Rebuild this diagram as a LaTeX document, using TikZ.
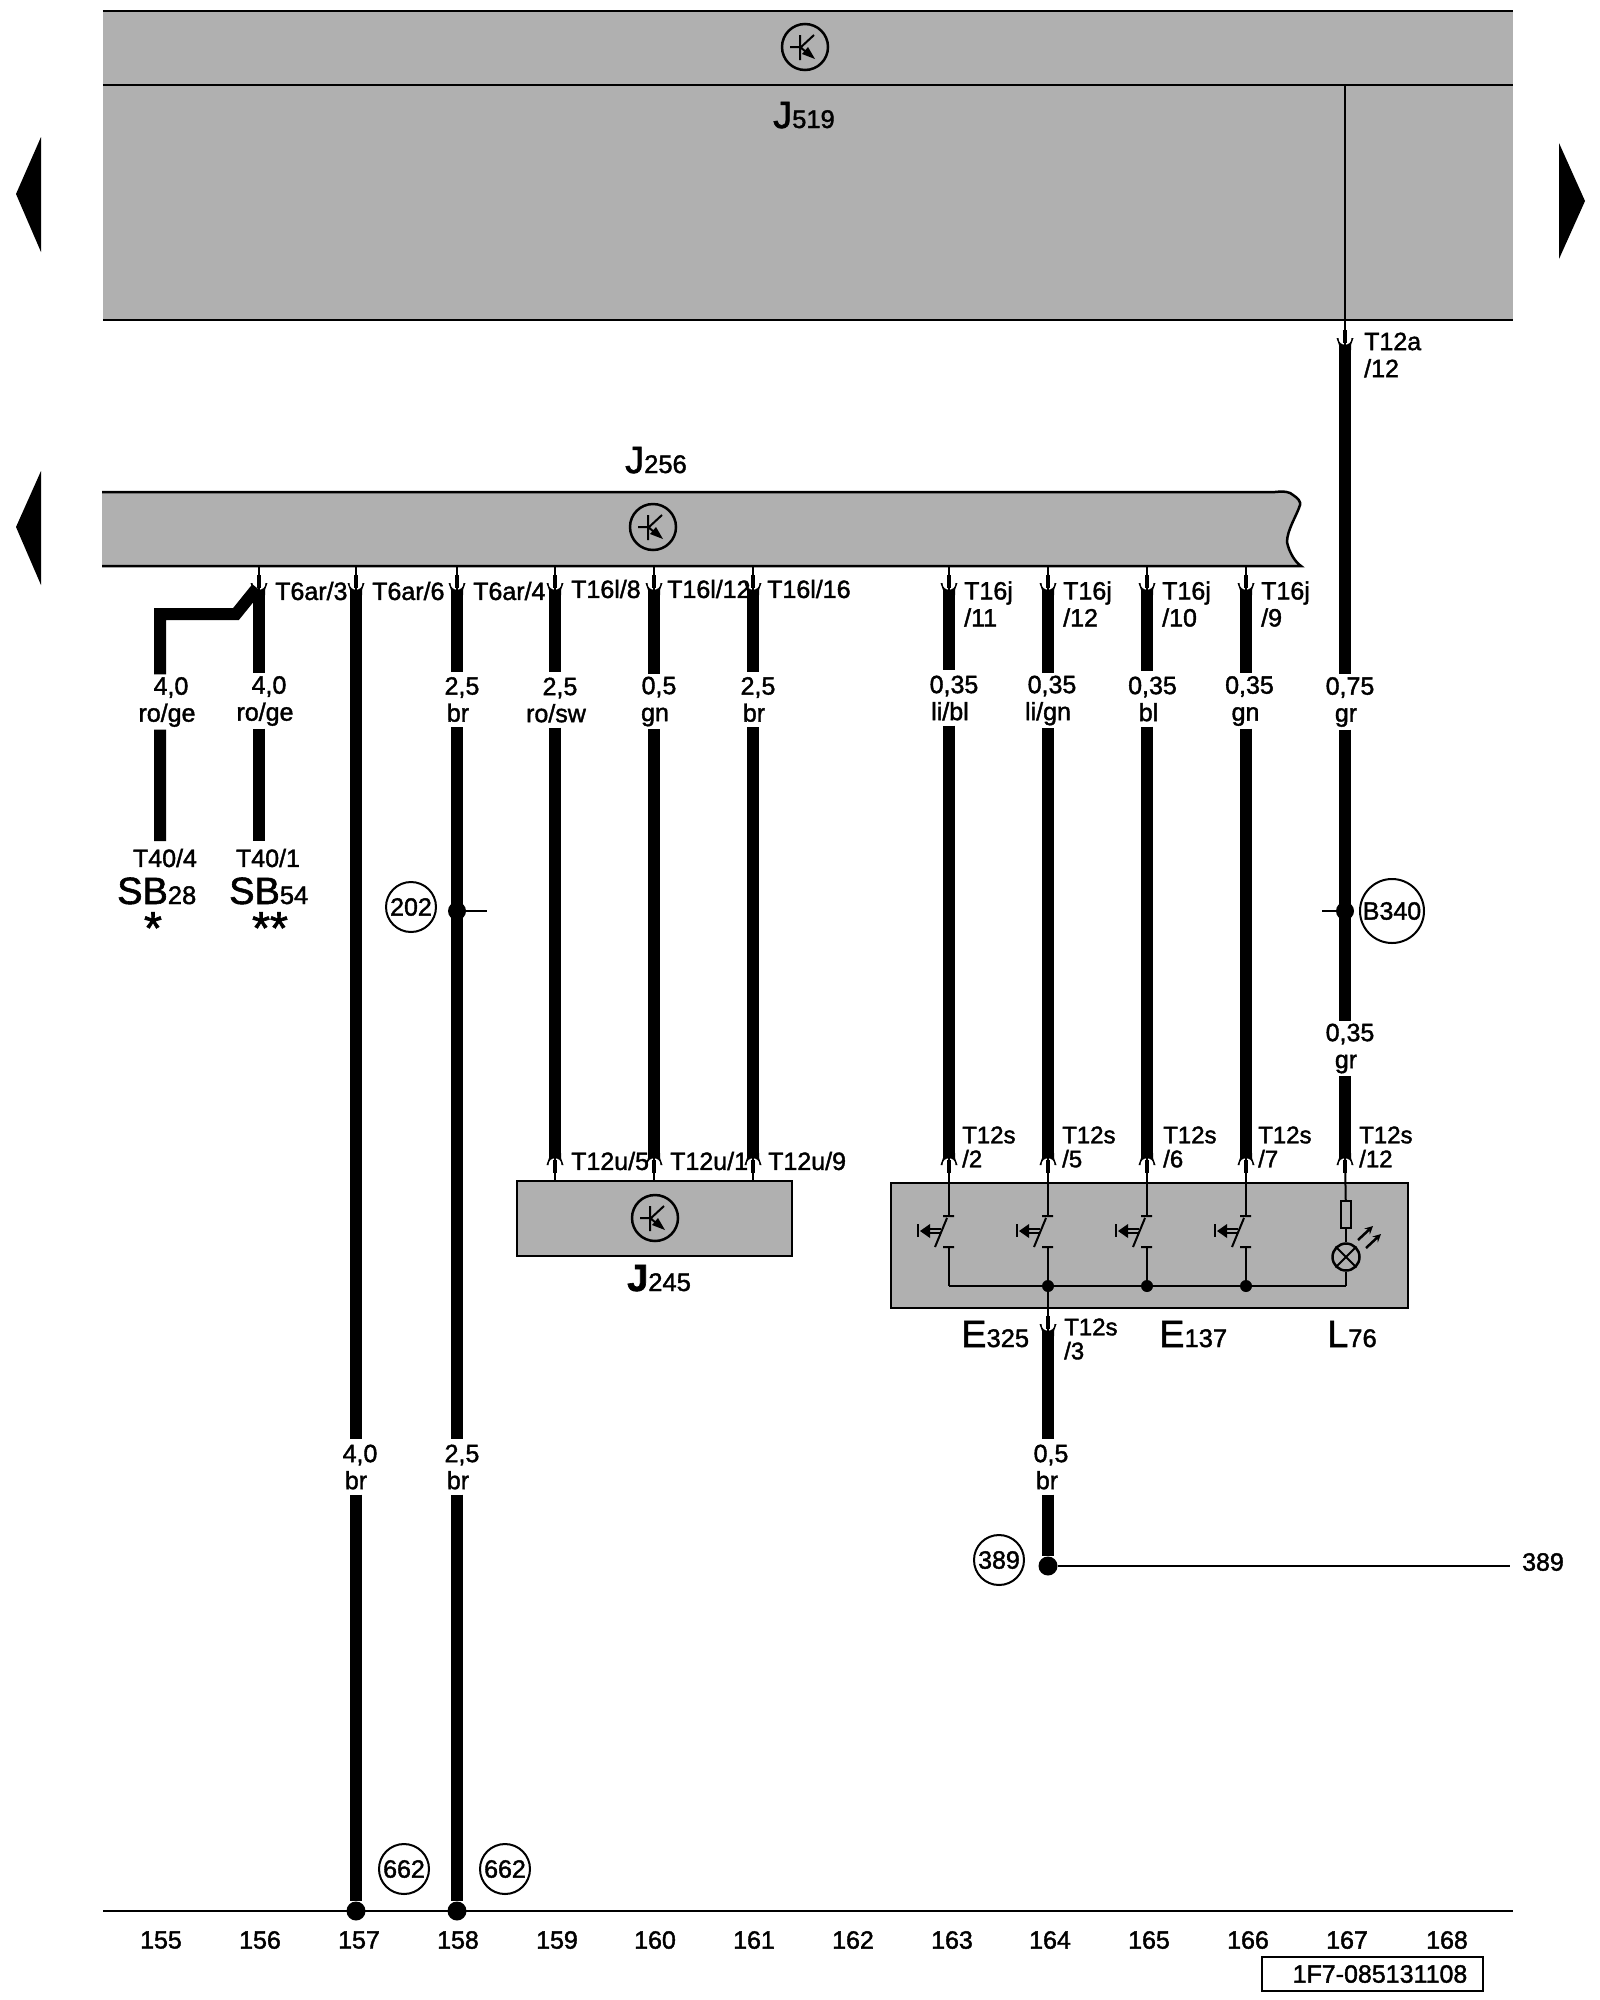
\documentclass[tikz,border=0pt]{standalone}
\usepackage{fontspec}
\usepackage{xcolor}
\usepackage{tikz}
\setmainfont[FakeBold=1.6]{Liberation Sans}
\definecolor{boxgray}{RGB}{176,176,176}
\newcommand{\unitname}[2]{{\fontsize{38}{38}\selectfont #1}{\fontsize{25.5}{26}\selectfont #2}}
\newcommand{\sizecolor}[2]{\hspace*{4pt}#1\\#2\hspace*{4pt}}
\tikzset{
    wire/.style={line width=12pt},
    trace/.style={line width=2pt},
    bar/.style={line width=2.5pt},
    unitbox/.style={fill=boxgray, inner sep=0pt, minimum width=1410pt},
    gauge/.style={align=center, inner sep=0pt, minimum height=55pt, font=\fontsize{25}{27}\selectfont},
    pinname/.style={anchor=west, align=left, inner sep=0pt, font=\fontsize{25}{27}\selectfont},
    lowname/.style={anchor=west, align=left, inner sep=0pt, font=\fontsize{24}{24}\selectfont},
    partlabel/.style={anchor=base west, inner sep=0pt},
    colnum/.style={inner sep=0pt, font=\fontsize{25}{27}\selectfont},
    callout/.style={draw, circle, line width=2pt, inner sep=0pt, minimum size=50pt, font=\fontsize{25}{27}\selectfont},
    bigdot/.style={fill, circle, inner sep=0pt, minimum size=19pt},
    smalldot/.style={fill, circle, inner sep=0pt, minimum size=12pt},
    plugpin/.pic={
        \fill (-8.5,-7) -- (-6,0) -- (-6,5) -- (6,5) -- (6,0) -- (8.5,-7) -- (6.5,-7) .. controls (7,2) and (-7,2) .. (-6.5,-7) -- cycle;
        \fill (-2,-15) rectangle (2,-2);
    },
    transistor/.pic={
        \draw[line width=2.5pt] (0,0) circle (23pt);
        \draw[trace] (-15,0) -- (-5,0) (-5,-12) -- (-5,13) (-5,1) -- (9,-12) (-5,0) -- (5,8);
        \fill (10,12) -- (-3,7) -- (3,0) -- cycle;
    },
    switchpic/.pic={
        \draw[trace] (-6,0) -- (5,0) (-6,31) -- (5,31) (-2,2) -- (-14,31);
        \draw[trace] (-20,13) -- (-8,13) (-20,17) -- (-8,17);
        \draw[trace] (-31,8) -- (-31,21);
        \fill (-29,15) -- (-19,8) -- (-19,22) -- cycle;
    }
}

\begin{document}
\begin{tikzpicture}[x=1pt, y=-1pt]
                        \useasboundingbox (0,0) rectangle (1600,2000);

                        \fill (41,137) -- (16,194) -- (41,252) -- cycle;
                        \fill (41,471) -- (16,527) -- (41,585) -- cycle;
                        \fill (1559,143) -- (1585,201) -- (1559,259) -- cycle;

                        \node[unitbox, minimum height=74pt] (j519top) at (808,48) {};
                        \node[unitbox, minimum height=235pt] (j519) at (808,202.5) {};
                        \draw[bar] (j519top.north west) -- (j519top.north east);
                        \draw[bar] (j519.north west) -- (j519.north east);
                        \draw[bar] (j519.south west) -- (j519.south east);
                        \pic at (805,47) {transistor};
                        \node[partlabel] (j519name) at (773,128) {\unitname{J}{519}};

                        \path[fill=boxgray, draw=black, line width=2.5pt] (102,492) -- (1275,492) .. controls (1285,491) and (1290,492) .. (1293,495)
                            .. controls (1298,498) and (1301,502) .. (1300,505) .. controls (1297,515) and (1287,530) .. (1287,542)
                            .. controls (1289,552) and (1295,562) .. (1301,566) -- (102,566);
                        \coordinate (j256s) at (102,566);
                        \pic at (653,527) {transistor};
                        \node[partlabel] (j256name) at (625,473) {\unitname{J}{256}};

                        \node[fill=boxgray, draw, line width=2.5pt, inner sep=0pt, minimum width=275pt, minimum height=75pt] (j245) at (654.5,1218.5) {};
                        \pic at (655,1218) {transistor};
                        \node[partlabel] (j245name) at (627,1291) {\unitname{\textbf{J}}{245}};

                        \node[fill=boxgray, draw, line width=2.5pt, inner sep=0pt, minimum width=517pt, minimum height=125pt] (switches) at (1149.5,1245.5) {};

                        \coordinate (p156) at (259,590);
                        \coordinate (p157) at (356,590);
                        \coordinate (p158) at (457,590);
                        \coordinate (p159) at (555,590);
                        \coordinate (p160) at (654,590);
                        \coordinate (p161) at (753,590);
                        \coordinate (p163) at (949,590);
                        \coordinate (p164) at (1048,590);
                        \coordinate (p165) at (1147,590);
                        \coordinate (p166) at (1246,590);
                        \coordinate (p167) at (1345,345);
                        \coordinate (u159) at (555,1158);
                        \coordinate (u160) at (654,1158);
                        \coordinate (u161) at (753,1158);
                        \coordinate (u163) at (949,1158);
                        \coordinate (u164) at (1048,1158);
                        \coordinate (u165) at (1147,1158);
                        \coordinate (u166) at (1246,1158);
                        \coordinate (u167) at (1345,1158);
                        \coordinate (d164) at (1048,1331);
                        \coordinate (end155) at (160,841);
                        \coordinate (end156) at (259,841);
                        \coordinate (bend1) at (257,588);
                        \coordinate (bend2) at (236,614);
                        \coordinate (bend3) at (160,614);

                        \node[gauge] (v155) at (169,702) {\sizecolor{4,0}{ro/ge}};
                        \node[gauge] (v156) at (267,701) {\sizecolor{4,0}{ro/ge}};
                        \node[gauge] (v158) at (460,699.5) {\sizecolor{2,5}{br}};
                        \node[gauge] (v159) at (558,700) {\sizecolor{2,5}{ro/sw}};
                        \node[gauge] (v160) at (657,701.5) {\sizecolor{0,5}{gn}};
                        \node[gauge] (v161) at (756,699.5) {\sizecolor{2,5}{br}};
                        \node[gauge] (v163) at (952,698) {\sizecolor{0,35}{li/bl}};
                        \node[gauge] (v164) at (1050,700.5) {\sizecolor{0,35}{li/gn}};
                        \node[gauge] (v165) at (1150.5,699) {\sizecolor{0,35}{bl}};
                        \node[gauge] (v166) at (1247.5,701) {\sizecolor{0,35}{gn}};
                        \node[gauge] (v167) at (1348,702) {\sizecolor{0,75}{gr}};
                        \node[gauge] (w167) at (1348,1048.5) {\sizecolor{0,35}{gr}};
                        \node[gauge] (w157) at (358,1467) {\sizecolor{4,0}{br}};
                        \node[gauge] (w158) at (460,1467) {\sizecolor{2,5}{br}};
                        \node[gauge] (w164) at (1049,1467) {\sizecolor{0,5}{br}};

                        \node[bigdot] (g157) at (356,1911) {};
                        \node[bigdot] (g158) at (457,1911) {};
                        \node[bigdot] (g164) at (1048,1566) {};
                        \node[bigdot, minimum size=18pt] (g202) at (457,911) {};
                        \node[bigdot, minimum size=18pt] (g340) at (1345,911) {};

                        \draw[wire] (bend1) -- (bend2) -- (bend3) -- (bend3 |- v155.north) (bend3 |- v155.south) -- (end155);
                        \draw[wire] (p156) -- (p156 |- v156.north) (p156 |- v156.south) -- (end156);
                        \draw[wire] (p157) -- (p157 |- w157.north) (p157 |- w157.south) -- (g157);
                        \draw[wire] (p158) -- (p158 |- v158.north) (p158 |- v158.south) -- (p158 |- w158.north) (p158 |- w158.south) -- (g158);
                        \draw[wire] (p159) -- (p159 |- v159.north) (p159 |- v159.south) -- (u159);
                        \draw[wire] (p160) -- (p160 |- v160.north) (p160 |- v160.south) -- (u160);
                        \draw[wire] (p161) -- (p161 |- v161.north) (p161 |- v161.south) -- (u161);
                        \draw[wire] (p163) -- (p163 |- v163.north) (p163 |- v163.south) -- (u163);
                        \draw[wire] (p164) -- (p164 |- v164.north) (p164 |- v164.south) -- (u164);
                        \draw[wire] (p165) -- (p165 |- v165.north) (p165 |- v165.south) -- (u165);
                        \draw[wire] (p166) -- (p166 |- v166.north) (p166 |- v166.south) -- (u166);
                        \draw[wire] (p167) -- (p167 |- v167.north) (p167 |- v167.south) -- (p167 |- w167.north) (p167 |- w167.south) -- (u167);
                        \draw[wire] (d164) -- (d164 |- w164.north) (d164 |- w164.south) -- (g164);

                        \draw[trace] (p156) -- (p156 |- j256s);
                        \draw[trace] (p157) -- (p157 |- j256s);
                        \draw[trace] (p158) -- (p158 |- j256s);
                        \draw[trace] (p159) -- (p159 |- j256s);
                        \draw[trace] (p160) -- (p160 |- j256s);
                        \draw[trace] (p161) -- (p161 |- j256s);
                        \draw[trace] (p163) -- (p163 |- j256s);
                        \draw[trace] (p164) -- (p164 |- j256s);
                        \draw[trace] (p165) -- (p165 |- j256s);
                        \draw[trace] (p166) -- (p166 |- j256s);
                        \draw[trace] (p167) -- (p167 |- j519.north);
                        \draw[trace] (u159) -- (u159 |- j245.north);
                        \draw[trace] (u160) -- (u160 |- j245.north);
                        \draw[trace] (u161) -- (u161 |- j245.north);

                        \pic at (p156) {plugpin};
                        \pic at (p157) {plugpin};
                        \pic at (p158) {plugpin};
                        \pic at (p159) {plugpin};
                        \pic at (p160) {plugpin};
                        \pic at (p161) {plugpin};
                        \pic at (p163) {plugpin};
                        \pic at (p164) {plugpin};
                        \pic at (p165) {plugpin};
                        \pic at (p166) {plugpin};
                        \pic at (p167) {plugpin};
                        \pic at (d164) {plugpin};
                        \pic[yscale=-1] at (u159) {plugpin};
                        \pic[yscale=-1] at (u160) {plugpin};
                        \pic[yscale=-1] at (u161) {plugpin};
                        \pic[yscale=-1] at (u163) {plugpin};
                        \pic[yscale=-1] at (u164) {plugpin};
                        \pic[yscale=-1] at (u165) {plugpin};
                        \pic[yscale=-1] at (u166) {plugpin};
                        \pic[yscale=-1] at (u167) {plugpin};

                        \coordinate (s163t) at (949,1216);
                        \coordinate (s164t) at (1048,1216);
                        \coordinate (s165t) at (1147,1216);
                        \coordinate (s166t) at (1246,1216);
                        \coordinate (s163b) at (949,1247);
                        \coordinate (s164b) at (1048,1247);
                        \coordinate (s165b) at (1147,1247);
                        \coordinate (s166b) at (1246,1247);
                        \coordinate (bus163) at (949,1286);
                        \coordinate (bus167) at (1346,1286);
                        \node[smalldot] (bus164) at (1048,1286) {};
                        \node[smalldot] (bus165) at (1147,1286) {};
                        \node[smalldot] (bus166) at (1246,1286) {};
                        \node[draw, line width=2pt, inner sep=0pt, minimum width=10pt, minimum height=27pt] (fuse) at (1346,1214.5) {};
                        \node[draw, circle, line width=2.5pt, inner sep=0pt, minimum size=27pt] (lamp) at (1346,1257) {};

                        \draw[trace] (u163) -- (s163t);
                        \draw[trace] (u164) -- (s164t);
                        \draw[trace] (u165) -- (s165t);
                        \draw[trace] (u166) -- (s166t);
                        \draw[trace] (u167) -- (fuse);
                        \draw[trace] (fuse) -- (lamp);
                        \draw[trace] (lamp) -- (bus167);
                        \draw[trace] (s163b) -- (bus163);
                        \draw[trace] (s164b) -- (bus164);
                        \draw[trace] (s165b) -- (bus165);
                        \draw[trace] (s166b) -- (bus166);
                        \draw[trace] (bus163) -- (bus167);
                        \draw[trace] (bus164) -- (d164);
                        \draw[trace] (lamp.north west) -- (lamp.south east) (lamp.north east) -- (lamp.south west);
                        \draw[line width=2.5pt, -stealth] (1358,1240) -- (1373,1226);
                        \draw[line width=2.5pt, -stealth] (1366,1248) -- (1381,1234);
                        \pic at (s163t) {switchpic};
                        \pic at (s164t) {switchpic};
                        \pic at (s165t) {switchpic};
                        \pic at (s166t) {switchpic};

                        \node[pinname] (t1) at (275,591) {T6ar/3};
                        \node[pinname] (t2) at (372,591) {T6ar/6};
                        \node[pinname] (t3) at (473,591) {T6ar/4};
                        \node[pinname] (t4) at (571,589) {T16l/8};
                        \node[pinname] (t5) at (667,589) {T16l/12};
                        \node[pinname] (t6) at (767,589) {T16l/16};
                        \node[pinname] (t7) at (964,604) {T16j\\/11};
                        \node[pinname] (t8) at (1063,604) {T16j\\/12};
                        \node[pinname] (t9) at (1162,604) {T16j\\/10};
                        \node[pinname] (t10) at (1261,604) {T16j\\/9};
                        \node[pinname] (t11) at (1364,355) {T12a\\/12};
                        \node[pinname] (t12) at (571,1161) {T12u/5};
                        \node[pinname] (t13) at (670,1161) {T12u/1};
                        \node[pinname] (t14) at (768,1161) {T12u/9};
                        \node[lowname] (t15) at (962,1147) {T12s\\/2};
                        \node[lowname] (t16) at (1062,1147) {T12s\\/5};
                        \node[lowname] (t17) at (1163,1147) {T12s\\/6};
                        \node[lowname] (t18) at (1258,1147) {T12s\\/7};
                        \node[lowname] (t19) at (1359,1147) {T12s\\/12};
                        \node[lowname] (t20) at (1064,1339) {T12s\\/3};

                        \node[colnum] (t40a) at (165,858) {T40/4};
                        \node[colnum] (t40b) at (268,858) {T40/1};
                        \node[partlabel] (sb28) at (117,904) {\unitname{SB}{28}};
                        \node[partlabel] (sb54) at (229,904) {\unitname{SB}{54}};
                        \node[colnum, font=\fontsize{46}{46}\selectfont] (star1) at (153,928) {*};
                        \node[colnum, font=\fontsize{46}{46}\selectfont] (star2) at (270,928) {**};

                        \node[partlabel] (e325) at (961,1347) {\unitname{E}{325}};
                        \node[partlabel] (e137) at (1159,1347) {\unitname{E}{137}};
                        \node[partlabel] (l76) at (1327,1347) {\unitname{L}{76}};

                        \node[callout] (c202) at (411,907) {202};
                        \node[callout, minimum size=64pt] (c340) at (1392,911) {B340};
                        \node[callout] (c389) at (999,1560) {389};
                        \node[callout] (c662a) at (404,1869) {662};
                        \node[callout] (c662b) at (505,1869) {662};
                        \coordinate (tick202) at (487,911);
                        \coordinate (tick340) at (1322,911);
                        \coordinate (end389) at (1510,1566);
                        \draw[trace] (g202) -- (tick202);
                        \draw[trace] (tick340) -- (g340);
                        \draw[trace] (g164) -- (end389);
                        \node[colnum] (n389) at (1543,1562) {389};

                        \coordinate (base0) at (103,1911);
                        \coordinate (base1) at (1513,1911);
                        \draw[bar] (base0) -- (base1);
                        \node[colnum] (n155) at (161,1940) {155};
                        \node[colnum] (n156) at (260,1940) {156};
                        \node[colnum] (n157) at (359,1940) {157};
                        \node[colnum] (n158) at (458,1940) {158};
                        \node[colnum] (n159) at (557,1940) {159};
                        \node[colnum] (n160) at (655,1940) {160};
                        \node[colnum] (n161) at (754,1940) {161};
                        \node[colnum] (n162) at (853,1940) {162};
                        \node[colnum] (n163) at (952,1940) {163};
                        \node[colnum] (n164) at (1050,1940) {164};
                        \node[colnum] (n165) at (1149,1940) {165};
                        \node[colnum] (n166) at (1248,1940) {166};
                        \node[colnum] (n167) at (1347,1940) {167};
                        \node[colnum] (n168) at (1447,1940) {168};
                        \node[colnum, draw, line width=2pt, minimum width=221pt, minimum height=34pt] (stamp) at (1372.5,1974) {\hspace*{15pt}1F7-085131108};
                    \end{tikzpicture}
\end{document}
